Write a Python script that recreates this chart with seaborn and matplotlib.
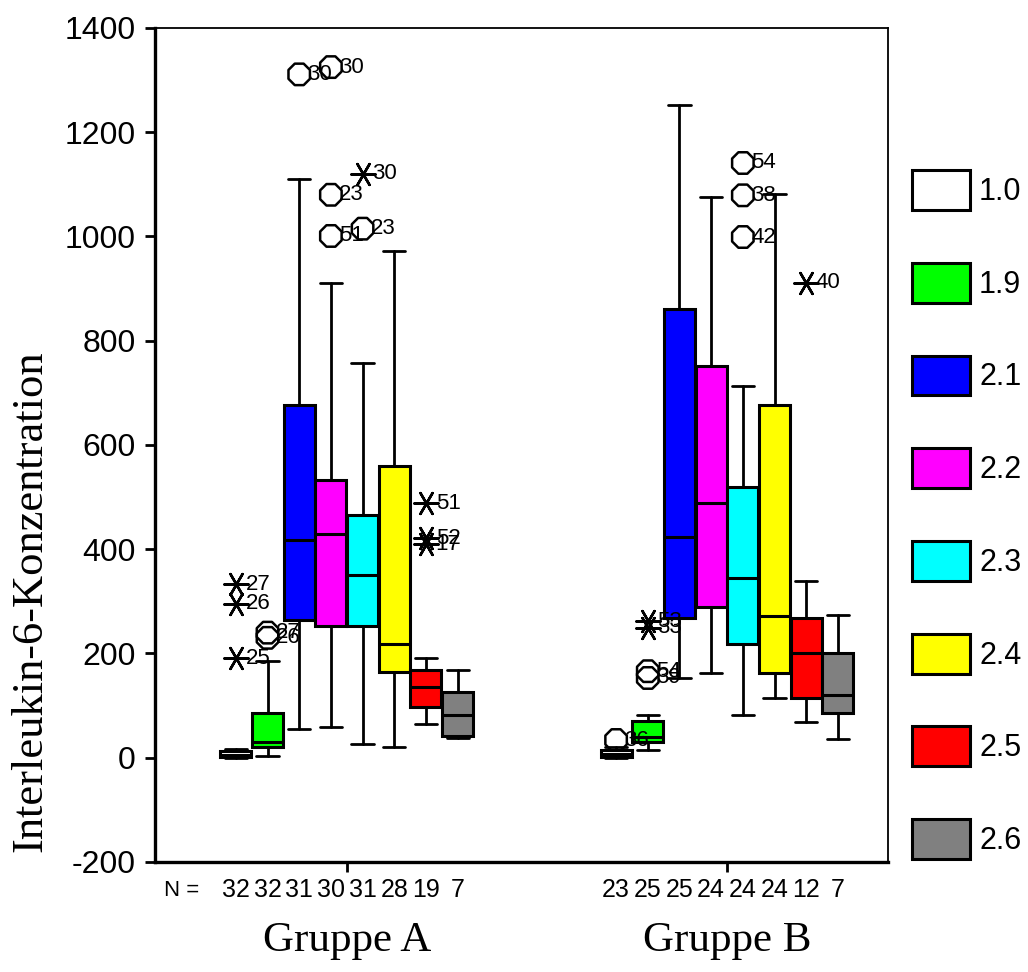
import numpy as np
import pandas as pd
import matplotlib
matplotlib.use("Agg")
import matplotlib.pyplot as plt
from matplotlib.patches import Patch
import seaborn as sns

# data (SPSS style box plot)
groups = ["Gruppe A", "Gruppe B"]
categories = ["1.0", "1.9", "2.1", "2.2", "2.3", "2.4", "2.5", "2.6"]
box_colors = ["white", "#00ff00", "#0000ff", "#ff00ff", "#00ffff", "#ffff00", "#ff0000", "#808080"]

whislo_a = [0, 4, 55, 58, 27, 21, 65, 38]
q1_a = [2, 20, 264, 253, 253, 165, 97, 42]
med_a = [6, 30, 417, 429, 350, 218, 136, 82]
q3_a = [12, 86, 676, 532, 465, 559, 168, 126]
whishi_a = [17, 186, 1110, 911, 758, 972, 191, 168]
n_a = [32, 32, 31, 30, 31, 28, 19, 7]

whislo_b = [0, 15, 153, 163, 82, 115, 69, 36]
q1_b = [2, 31, 268, 290, 218, 163, 115, 86]
med_b = [8, 40, 423, 488, 345, 272, 201, 121]
q3_b = [14, 71, 861, 752, 519, 676, 268, 201]
whishi_b = [20, 82, 1252, 1076, 714, 1082, 340, 274]
n_b = [23, 25, 25, 24, 24, 24, 12, 7]

# outliers (circles) and extremes (asterisks): group, category, value, case number
out_group = ["Gruppe A", "Gruppe A", "Gruppe A", "Gruppe A", "Gruppe A", "Gruppe A", "Gruppe A",
             "Gruppe B", "Gruppe B", "Gruppe B", "Gruppe B", "Gruppe B", "Gruppe B"]
out_cat = ["1.9", "1.9", "2.1", "2.2", "2.2", "2.2", "2.3",
           "1.0", "1.9", "1.9", "2.3", "2.3", "2.3"]
out_val = [240, 230, 1311, 1325, 1080, 1001, 1015,
           34, 166, 153, 1141, 1079, 999]
out_case = ["27", "26", "30", "30", "23", "51", "23",
            "36", "54", "39", "54", "38", "42"]

ext_group = ["Gruppe A", "Gruppe A", "Gruppe A", "Gruppe A", "Gruppe A", "Gruppe A", "Gruppe A",
             "Gruppe B", "Gruppe B", "Gruppe B"]
ext_cat = ["1.0", "1.0", "1.0", "2.3", "2.5", "2.5", "2.5",
           "1.9", "1.9", "2.5"]
ext_val = [333, 295, 191, 1120, 488, 421, 410,
           262, 249, 911]
ext_case = ["27", "26", "25", "30", "51", "52", "17",
            "53", "33", "40"]

sns.set_style("ticks")
plt.rcParams['font.family'] = ['Liberation Sans', 'DejaVu Sans']
plt.rcParams['axes.unicode_minus'] = False
for k in ['text.color', 'axes.labelcolor', 'xtick.color', 'ytick.color', 'axes.edgecolor']:
    plt.rcParams[k] = 'black'

fig = plt.figure(figsize=(10.28, 9.72), dpi=100)
ax = fig.add_axes([0.1508, 0.1132, 0.713, 0.858])

gap = 12  # slot offset between the two groups


def pos(g, c):
    return groups.index(g) * gap + categories.index(c)


stats = []
positions = []
cols = []
for gi, (lo, q1, md, q3, hi) in enumerate([(whislo_a, q1_a, med_a, q3_a, whishi_a),
                                           (whislo_b, q1_b, med_b, q3_b, whishi_b)]):
    for ci in range(len(categories)):
        stats.append(dict(whislo=lo[ci], q1=q1[ci], med=md[ci], q3=q3[ci], whishi=hi[ci], fliers=[]))
        positions.append(gi * gap + ci)
        cols.append(box_colors[ci])

bp = ax.bxp(stats, positions=positions, widths=0.98, patch_artist=True, showfliers=False,
            capwidths=0.7,
            boxprops=dict(edgecolor='black', linewidth=2.2),
            medianprops=dict(color='black', linewidth=2.2),
            whiskerprops=dict(color='black', linewidth=2.0),
            capprops=dict(color='black', linewidth=2.0))
for patch, c in zip(bp['boxes'], cols):
    patch.set_facecolor(c)

out_df = pd.DataFrame({'x': [pos(g, c) for g, c in zip(out_group, out_cat)], 'y': out_val, 'case': out_case})
ext_df = pd.DataFrame({'x': [pos(g, c) for g, c in zip(ext_group, ext_cat)], 'y': ext_val, 'case': ext_case})

sns.scatterplot(data=out_df, x='x', y='y', marker='8', s=280, facecolor='none',
                edgecolor='black', linewidth=1.8, ax=ax, zorder=4)
sns.scatterplot(data=ext_df, x='x', y='y', marker=(6, 2, 90), s=300, color='black',
                linewidth=1.8, ax=ax, zorder=4)
for df, dx in [(out_df, 6), (ext_df, 7)]:
    for _, r in df.iterrows():
        ax.annotate(r['case'], (r['x'], r['y']), xytext=(dx, 0), textcoords='offset points',
                    va='center', ha='left', fontsize=16, zorder=5)

ax.set_xlim(-2.55, 20.58)
ax.set_ylim(-200, 1400)
ax.set_yticks(np.arange(-200, 1401, 200))
ax.set_xticks([3.5, 3.5 + gap])
ax.set_xticklabels([])
ax.set_xlabel('')
ax.set_ylabel('Interleukin-6-Konzentration', family='Liberation Serif', fontsize=32)
ax.yaxis.set_label_coords(-0.143, 0.313)
ax.tick_params(axis='y', labelsize=23, width=2, length=7, direction='out', pad=7)
ax.tick_params(axis='x', width=2, length=7, direction='out')
for s in ['left', 'bottom']:
    ax.spines[s].set_linewidth(2.4)
for s in ['top', 'right']:
    ax.spines[s].set_visible(True)
    ax.spines[s].set_linewidth(1.3)

# N counts and group titles under the axis
trans = ax.get_xaxis_transform()
ax.text(-1.7, -0.034, 'N =', transform=trans, ha='center', va='center', fontsize=16)
for gi, ns in enumerate([n_a, n_b]):
    for ci, n in enumerate(ns):
        ax.text(gi * gap + ci, -0.034, str(n), transform=trans, ha='center', va='center', fontsize=18)
    ax.text(3.5 + gi * gap, -0.094, groups[gi], transform=trans, ha='center', va='center',
            family='Liberation Serif', fontsize=31)

handles = [Patch(facecolor=c, edgecolor='black', linewidth=2.2) for c in box_colors]
fig.legend(handles, categories, loc='upper left', bbox_to_anchor=(0.887, 0.825),
           frameon=False, fontsize=22, handlelength=1.9, handleheight=1.63,
           labelspacing=1.73, handletextpad=0.3, borderpad=0, borderaxespad=0)

fig.savefig('out.png', dpi=100)
